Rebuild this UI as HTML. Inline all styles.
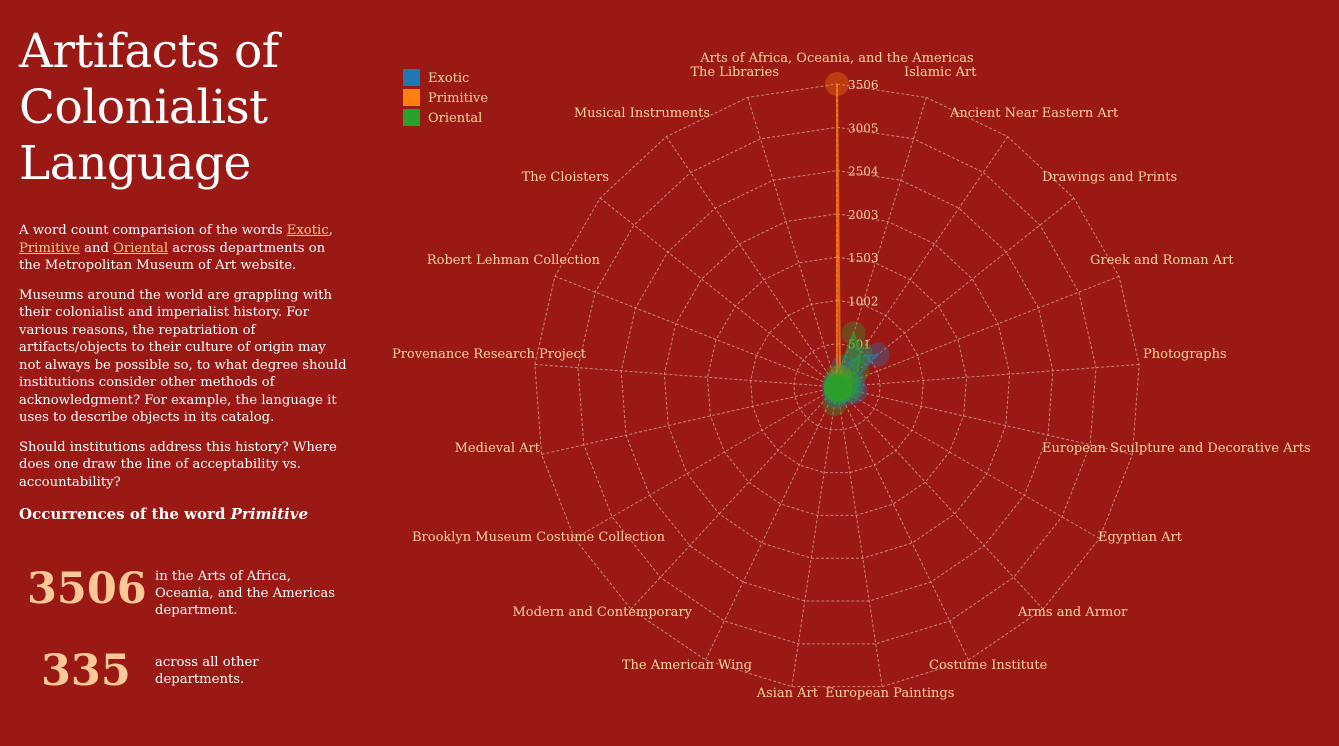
<!DOCTYPE html>
<html><head><meta charset="utf-8">
<style>
body{margin:0;width:1339px;height:746px;background:#9b1914;overflow:hidden;font-family:"DejaVu Serif",serif;color:#fff;position:relative}
#left{position:absolute;left:19px;top:24px;width:360px}
h1{font-weight:normal;font-size:47px;line-height:56px;margin:0 0 30px 0;letter-spacing:-0.5px}
p{font-size:13.2px;line-height:17.5px;margin:0 0 12px 0;white-space:nowrap}
a{color:#fdc58e;text-decoration:underline}
h3{font-size:15px;margin:14px 0 0 0}
.stat{position:absolute;left:8px;width:340px}
.big{position:absolute;font-size:43px;font-weight:bold;color:#fdc898}
.desc{position:absolute;left:128px;font-size:13.2px;line-height:17px}
svg text{font-family:"DejaVu Serif",serif}
</style></head><body>
<div id="left">
<h1>Artifacts of<br>Colonialist<br>Language</h1>
<p>A word count comparision of the words <a>Exotic</a>,<br><a>Primitive</a> and <a>Oriental</a> across departments on<br>the Metropolitan Museum of Art website.</p>
<p>Museums around the world are grappling with<br>their colonialist and imperialist history. For<br>various reasons, the repatriation of<br>artifacts/objects to their culture of origin may<br>not always be possible so, to what degree should<br>institutions consider other methods of<br>acknowledgment? For example, the language it<br>uses to describe objects in its catalog.</p>
<p>Should institutions address this history? Where<br>does one draw the line of acceptability vs.<br>accountability?</p>
<h3>Occurrences of the word <i>Primitive</i></h3>
<div class="stat" style="top:540px">
<div class="big" style="left:0;top:0">3506</div>
<div class="desc" style="top:4px">in the Arts of Africa,<br>Oceania, and the Americas<br>department.</div></div>
<div class="stat" style="top:622px">
<div class="big" style="left:14px;top:0">335</div>
<div class="desc" style="top:8px">across all other<br>departments.</div></div>
</div>
<svg id="chart" width="1339" height="746" style="position:absolute;left:0;top:0"></svg>
<script>
const categories=["Arts of Africa, Oceania, and the Americas","Islamic Art","Ancient Near Eastern Art","Drawings and Prints","Greek and Roman Art","Photographs","European Sculpture and Decorative Arts","Egyptian Art","Arms and Armor","Costume Institute","European Paintings","Asian Art","The American Wing","Modern and Contemporary","Brooklyn Museum Costume Collection","Medieval Art","Provenance Research Project","Robert Lehman Collection","The Cloisters","Musical Instruments","The Libraries"];
const exoticValues=[60,250,420,600,200,180,220,150,40,60,80,120,60,30,10,40,0,20,20,50,10];
const primitiveValues=[3506,120,80,40,30,10,20,40,10,0,5,10,20,20,0,10,0,0,5,10,5];
const orientalValues=[120,650,480,300,150,100,160,80,30,20,60,200,40,20,10,20,0,10,10,40,10];
const tickLabels=["501","1002","1503","2003","2504","3005","3506"];
const maxValue=3506;
const seriesNames=["Exotic","Primitive","Oriental"];
const seriesColors=["#1f77b4","#ff7f0e","#2ca02c"];
const labelPos=[[837,62,"middle"],[904,76,"start"],[950,117,"start"],[1042,181,"start"],[1090,264,"start"],[1143,358,"start"],[1042,452,"start"],[1098,541,"start"],[1018,616,"start"],[929,669,"start"],[825,697,"start"],[818,697,"end"],[752,669,"end"],[692,616,"end"],[665,541,"end"],[540,452,"end"],[586,358,"end"],[600,264,"end"],[609,181,"end"],[710,117,"end"],[779,76,"end"]];
const svg=document.getElementById('chart');const NS='http://www.w3.org/2000/svg';
const cx=837,cy=387,R=303,N=categories.length;
function ang(i){return i*2*Math.PI/N;}
function pt(i,v){const r=v/maxValue*R;return [cx+r*Math.sin(ang(i)),cy-r*Math.cos(ang(i))];}
function mk(t,a){const e=document.createElementNS(NS,t);for(const k in a)e.setAttribute(k,a[k]);svg.appendChild(e);return e;}
for(let k=1;k<=tickLabels.length;k++){const v=maxValue*k/tickLabels.length;const pts=categories.map((c,i)=>pt(i,v).join(',')).join(' ');
const g=mk('polygon',{points:pts,fill:'none',stroke:'#d8b0a8','stroke-width':1,'stroke-dasharray':'3,2',opacity:0.7});

}
categories.forEach((c,i)=>{const p=pt(i,maxValue);const l=mk('line',{x1:cx,y1:cy,x2:p[0],y2:p[1],stroke:'#d8b0a8','stroke-width':1,'stroke-dasharray':'3,2',opacity:0.7});


const lp=labelPos[i];const t=mk('text',{x:lp[0],y:lp[1],'text-anchor':lp[2],fill:'#fdd4a0','font-size':13});t.textContent=c;

});
tickLabels.forEach((s,k)=>{const v=maxValue*(k+1)/tickLabels.length;const t=mk('text',{x:cx+11,y:cy-v/maxValue*R+5,fill:'#fdd4a0','font-size':12});t.textContent=s;

});
[exoticValues,primitiveValues,orientalValues].forEach((vals,s)=>{const col=seriesColors[s];
const pts=vals.map((v,i)=>pt(i,v).join(',')).join(' ');
const pg=mk('polygon',{points:pts,fill:col,'fill-opacity':0.3,stroke:col,'stroke-width':2,'stroke-opacity':0.7});


vals.forEach((v,i)=>{const p=pt(i,v);const c=mk('circle',{cx:p[0],cy:p[1],r:12,fill:col,'fill-opacity':0.35});

});});
seriesNames.forEach((n,s)=>{const r=mk('rect',{x:403,y:69+s*20,width:17,height:17,fill:seriesColors[s]});


const t=mk('text',{x:428,y:82+s*20,fill:'#fdd4a0','font-size':13});t.textContent=n;

});
</script>
</body></html>
